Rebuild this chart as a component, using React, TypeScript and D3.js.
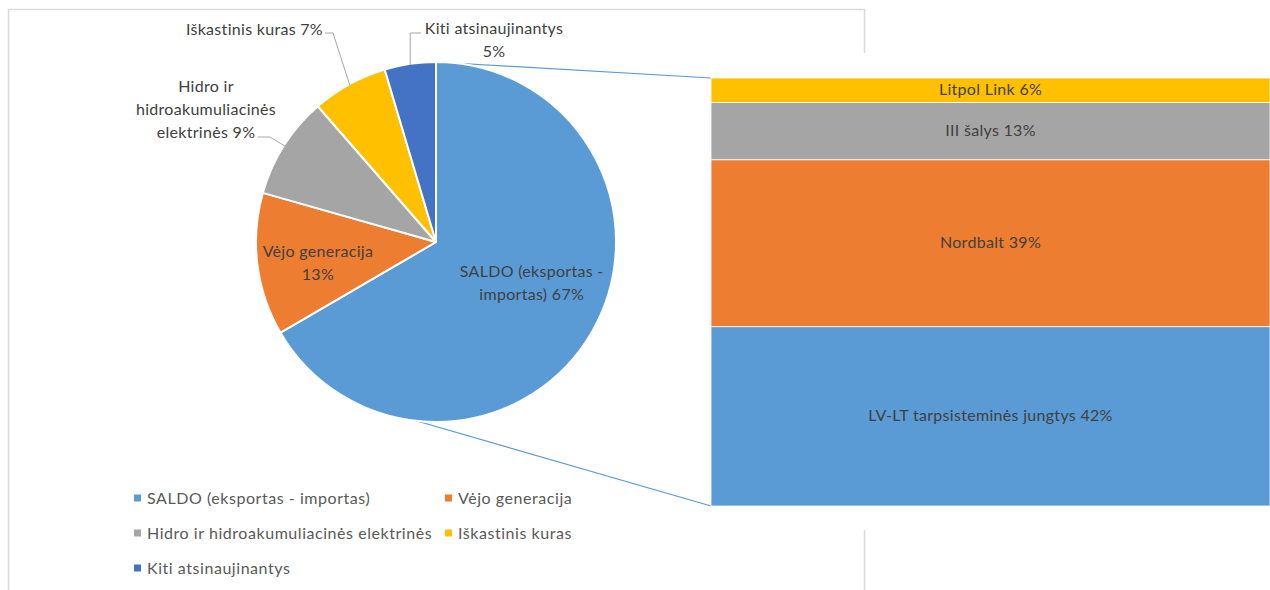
import React from 'react';
import * as d3 from 'd3';

// pie: electricity balance structure
const pieNames = [
  'SALDO (eksportas - importas)',
  'Vėjo generacija',
  'Hidro ir hidroakumuliacinės elektrinės',
  'Iškastinis kuras',
  'Kiti atsinaujinantys',
];
const pieValues = [66.6, 12.8, 9.2, 6.8, 4.6];
const pieColors = ['#5b9bd5', '#ed7d31', '#a5a5a5', '#ffc000', '#4472c4'];
// how each data label wraps (percentage is appended to the last line or put on its own)
const pieLabelWrap = [
  ['SALDO (eksportas -', 'importas) %'],
  ['Vėjo generacija', '%'],
  ['Hidro ir', 'hidroakumuliacinės', 'elektrinės %'],
  ['Iškastinis kuras %'],
  ['Kiti atsinaujinantys', '%'],
];

// bar: breakdown of SALDO, bottom to top
const barNames = ['LV-LT tarpsisteminės jungtys', 'Nordbalt', 'III šalys', 'Litpol Link'];
const barValues = [41.9, 39.0, 13.4, 5.7];
const barColors = ['#5b9bd5', '#ed7d31', '#a5a5a5', '#ffc000'];

const FONT = 'Lato, "Open Sans", sans-serif';
const LABEL = '#404040';
const LEGEND = '#595959';

const W = 1270;
const H = 590;
const CX = 436;
const CY = 242;
const R = 180;

// label placement: inside labels use polar (r) + nudge, outside ones get a leader with an elbow
const labelLayout: any[] = [
  { kind: 'in', r: 100, dx: 9, dy: -8 },
  { kind: 'in', r: 119, dx: 0, dy: 7 },
  { kind: 'out', x: 206, y: 92, anchor: 'middle', elbow: [270, 137], end: [258, 137] },
  { kind: 'out', x: 323, y: 35, anchor: 'end', elbow: [333, 33], end: [325, 33] },
  { kind: 'out', x: 494, y: 34, anchor: 'middle', elbow: [null, 33], end: [421, 33] },
];
const LINE_H = 23;

export default function App() {
  const pie = d3.pie<number>().sort(null).startAngle(0).endAngle(2 * Math.PI).value(d => d);
  const arcs = pie(pieValues);
  const arc = d3.arc<d3.PieArcDatum<number>>().innerRadius(0).outerRadius(R);
  const polar = (a: number, r: number): [number, number] => [CX + r * Math.sin(a), CY - r * Math.cos(a)];
  const pct = (v: number) => `${Math.round(v)}%`;

  const barX0 = 711;
  const barX1 = W;
  const y = d3.scaleLinear().domain([0, d3.sum(barValues)]).range([506, 78]);
  const stacked = barValues.reduce<{ v0: number; v1: number; i: number }[]>((acc, v, i) => {
    const v0 = i === 0 ? 0 : acc[i - 1].v1;
    acc.push({ v0, v1: v0 + v, i });
    return acc;
  }, []);

  // connector lines: top of pie -> top of bar, lower pie edge -> bottom of bar
  const topStart = polar(0, R);
  const botStart = polar((206 / 180) * Math.PI, R);

  return (
    <div style={{ position: 'fixed', left: 0, top: 0, width: W, height: H, background: '#fff' }}>
      <svg width={W} height={H} style={{ display: 'block', fontFamily: FONT }}>
        <rect x={8.5} y={9.5} width={856} height={620} fill="#fff" stroke="#d9d9d9" strokeWidth={1.5} />
        <rect x={700} y={53} width={W - 700} height={477} fill="#fff" />

        <line x1={topStart[0]} y1={topStart[1]} x2={barX0} y2={y(d3.sum(barValues))} stroke="#5b9bd5" strokeWidth={1.2} />
        <line x1={botStart[0]} y1={botStart[1]} x2={barX0} y2={y(0)} stroke="#5b9bd5" strokeWidth={1.2} />

        <g transform={`translate(${CX},${CY})`}>
          {arcs.map((a, i) => (
            <path key={i} d={arc(a) || ''} fill={pieColors[i]} stroke="#fff" strokeWidth={2} strokeLinejoin="round" />
          ))}
        </g>

        {arcs.map((a, i) => {
          const L = labelLayout[i];
          const mid = (a.startAngle + a.endAngle) / 2;
          const lines = pieLabelWrap[i].map(s => s.replace('%', pct(pieValues[i])));
          if (L.kind === 'in') {
            const [px, py] = polar(mid, L.r);
            const x = px + L.dx;
            const top = py + L.dy - ((lines.length - 1) * LINE_H) / 2 + 5;
            return (
              <text key={i} fontSize={16} letterSpacing={0.3} fill={LABEL} textAnchor="middle">
                {lines.map((s, j) => (
                  <tspan key={j} x={x} y={top + j * LINE_H}>{s}</tspan>
                ))}
              </text>
            );
          }
          const edge = polar(mid, R - 1);
          const ex = L.elbow[0] == null ? edge[0] : L.elbow[0];
          const ey = L.elbow[1];
          return (
            <g key={i}>
              <polyline
                points={`${edge[0]},${edge[1]} ${ex},${ey} ${L.end[0]},${L.end[1]}`}
                fill="none"
                stroke="#a6a6a6"
                strokeWidth={1}
              />
              <text fontSize={16} letterSpacing={0.3} fill={LABEL} textAnchor={L.anchor}>
                {lines.map((s, j) => (
                  <tspan key={j} x={L.x} y={L.y + j * LINE_H}>{s}</tspan>
                ))}
              </text>
            </g>
          );
        })}

        {stacked.map(s => (
          <g key={s.i}>
            <rect
              x={barX0}
              y={y(s.v1)}
              width={barX1 - barX0}
              height={y(s.v0) - y(s.v1)}
              fill={barColors[s.i]}
              stroke="#fff"
              strokeWidth={0.8}
            />
            <text
              x={(barX0 + barX1) / 2}
              y={(y(s.v0) + y(s.v1)) / 2 + 5}
              fontSize={16}
              letterSpacing={0.3}
              fill={LABEL}
              textAnchor="middle"
            >
              {`${barNames[s.i]} ${pct(barValues[s.i])}`}
            </text>
          </g>
        ))}

        {pieNames.map((name, i) => {
          const col = i % 2;
          const row = Math.floor(i / 2);
          const lx = 134 + col * 311;
          const ly = 498 + row * 35;
          return (
            <g key={name} transform={`translate(${lx},${ly})`}>
              <rect x={0} y={-3.5} width={7} height={7} fill={pieColors[i]} />
              <text x={13} y={5.5} fontSize={16} letterSpacing={0.55} fill={LEGEND}>{name}</text>
            </g>
          );
        })}
      </svg>
    </div>
  );
}
